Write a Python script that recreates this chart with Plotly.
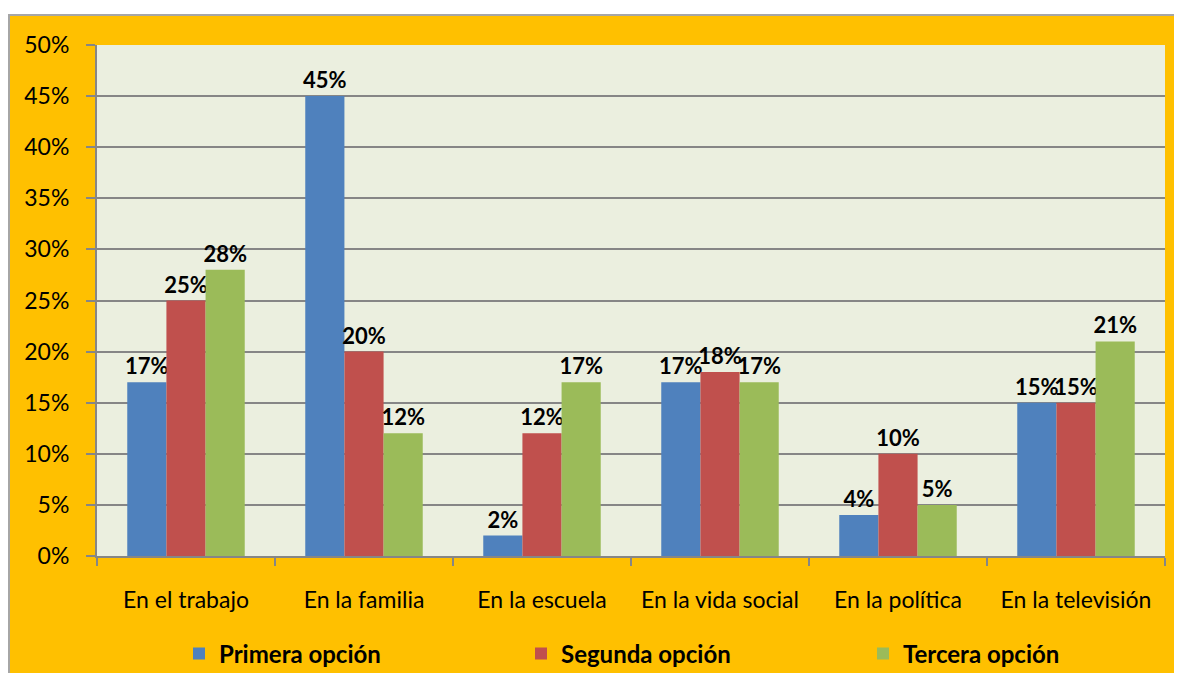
import plotly.graph_objects as go

categorias = ["En el trabajo", "En la familia", "En la escuela",
              "En la vida social", "En la política", "En la televisión"]
primera = [0.17, 0.45, 0.02, 0.17, 0.04, 0.15]
segunda = [0.25, 0.20, 0.12, 0.18, 0.10, 0.15]
tercera = [0.28, 0.12, 0.17, 0.17, 0.05, 0.21]

series = [
    ("Primera opción", primera, "#4F81BD"),
    ("Segunda opción", segunda, "#C0504D"),
    ("Tercera opción", tercera, "#9BBB59"),
]

FONT = "Lato, Calibri, sans-serif"

# figure sits 8px in from the page edge (body margin); keep it inside the window
W, H = 1174, 665
L, R, T, B = 89, 17, 37, 117
pw, ph = W - L - R, H - T - B

fig = go.Figure()
for nombre, valores, color in series:
    fig.add_bar(
        x=categorias, y=valores, name=nombre,
        marker=dict(color=color, line=dict(width=0)),
        texttemplate="%{y:.0%}", textposition="outside", constraintext="none",
        textfont=dict(family=FONT, size=22, color="black", weight="bold"),
        cliponaxis=False,
    )

fy = lambda px: (H - B - px) / ph  # pixel row -> paper y
fx = lambda px: (px - L) / pw      # pixel col -> paper x

fig.update_layout(
    width=W, height=H,
    margin=dict(l=L, r=R, t=T, b=B, autoexpand=False),
    paper_bgcolor="#FFC000",
    plot_bgcolor="#EBEFDF",
    barmode="group", bargap=0.34, bargroupgap=0,
    font=dict(family=FONT, size=20, color="black"),
    showlegend=True,
    legend=dict(
        orientation="h", x=fx(171), y=fy(646), xanchor="left", yanchor="middle",
        entrywidth=297, entrywidthmode="pixels",
        font=dict(family=FONT, size=24, color="black", weight="bold"),
        bgcolor="rgba(0,0,0,0)",
    ),
    shapes=[
        # white strip above the orange frame
        dict(type="rect", xref="paper", yref="paper", layer="below",
             x0=-0.2, x1=1.2, y0=fy(7), y1=1.3,
             fillcolor="white", line=dict(width=0)),
        dict(type="line", xref="paper", yref="paper", layer="below",
             x0=fx(0), x1=fx(W), y0=fy(7), y1=fy(7),
             line=dict(color="#A6A6A6", width=2)),
        dict(type="line", xref="paper", yref="paper", layer="below",
             x0=fx(1), x1=fx(1), y0=fy(H), y1=fy(7),
             line=dict(color="#A6A6A6", width=2)),
    ],
)

fig.update_xaxes(
    type="category", showline=True, linecolor="#868686", linewidth=2,
    ticks="outside", tickson="boundaries", ticklen=8, tickcolor="#868686",
    tickwidth=2, showgrid=False, tickfont=dict(size=23),
    ticklabelstandoff=22,
)
fig.update_yaxes(
    range=[0, 0.5], dtick=0.05, tickformat=".0%",
    showline=True, linecolor="#868686", linewidth=2,
    ticks="outside", ticklen=9, tickcolor="#868686", tickwidth=2,
    showgrid=True, gridcolor="#868686", gridwidth=2,
    zeroline=False, tickfont=dict(size=23), ticklabelstandoff=12,
)

fig.write_html("out.html")
